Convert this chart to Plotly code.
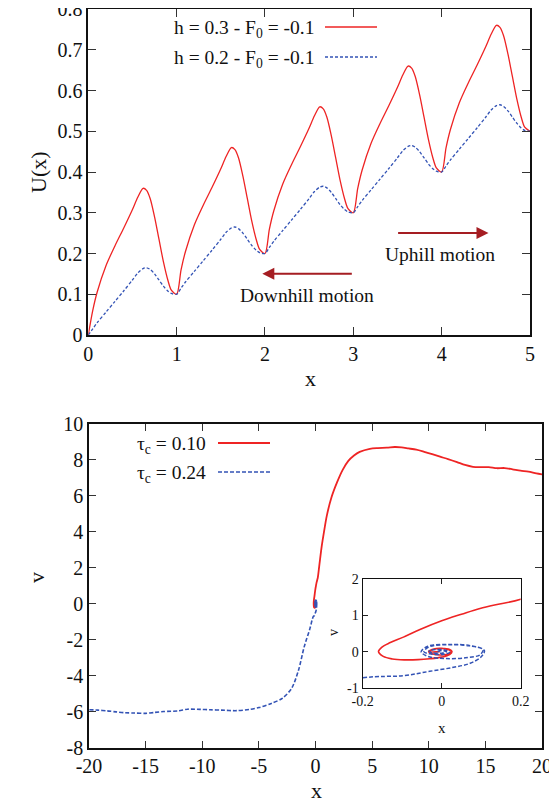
import plotly.graph_objects as go

W, H = 557, 806
FONT = "Liberation Serif, Times New Roman, serif"
RED = "#ee2424"
BLUE = "#3353b5"
ARROW = "#a51d22"

# ---------------- top panel data: U(x) ----------------
x_pot = [0.00, 0.05, 0.10, 0.20, 0.30, 0.40, 0.50, 0.56, 0.62, 0.66, 0.70, 0.75, 0.80, 0.85, 0.90, 0.94,
         1.00, 1.05, 1.10, 1.20, 1.30, 1.40, 1.50, 1.56, 1.62, 1.66, 1.70, 1.75, 1.80, 1.85, 1.90, 1.94,
         2.00, 2.05, 2.10, 2.20, 2.30, 2.40, 2.50, 2.56, 2.62, 2.66, 2.70, 2.75, 2.80, 2.85, 2.90, 2.94,
         3.00, 3.05, 3.10, 3.20, 3.30, 3.40, 3.50, 3.56, 3.62, 3.66, 3.70, 3.75, 3.80, 3.85, 3.90, 3.94,
         4.00, 4.05, 4.10, 4.20, 4.30, 4.40, 4.50, 4.56, 4.62, 4.66, 4.70, 4.75, 4.80, 4.85, 4.90, 4.94,
         5.00]
u_h03 = [0.000, 0.060, 0.105, 0.170, 0.218, 0.262, 0.308, 0.338, 0.360, 0.355, 0.335, 0.290, 0.235, 0.180, 0.135, 0.110,
         0.100, 0.160, 0.205, 0.270, 0.318, 0.362, 0.408, 0.438, 0.460, 0.455, 0.435, 0.390, 0.335, 0.280, 0.235, 0.210,
         0.200, 0.260, 0.305, 0.370, 0.418, 0.462, 0.508, 0.538, 0.560, 0.555, 0.535, 0.490, 0.435, 0.380, 0.335, 0.310,
         0.300, 0.360, 0.405, 0.470, 0.518, 0.562, 0.608, 0.638, 0.660, 0.655, 0.635, 0.590, 0.535, 0.480, 0.435, 0.410,
         0.400, 0.460, 0.505, 0.570, 0.618, 0.662, 0.708, 0.738, 0.760, 0.755, 0.735, 0.690, 0.635, 0.580, 0.535, 0.510,
         0.500]
u_h02 = [0.000, 0.015, 0.030, 0.056, 0.082, 0.108, 0.135, 0.152, 0.163, 0.165, 0.161, 0.150, 0.135, 0.120, 0.108, 0.102,
         0.100, 0.115, 0.130, 0.156, 0.182, 0.208, 0.235, 0.252, 0.263, 0.265, 0.261, 0.250, 0.235, 0.220, 0.208, 0.202,
         0.200, 0.215, 0.230, 0.256, 0.282, 0.308, 0.335, 0.352, 0.363, 0.365, 0.361, 0.350, 0.335, 0.320, 0.308, 0.302,
         0.300, 0.315, 0.330, 0.356, 0.382, 0.408, 0.435, 0.452, 0.463, 0.465, 0.461, 0.450, 0.435, 0.420, 0.408, 0.402,
         0.400, 0.415, 0.430, 0.456, 0.482, 0.508, 0.535, 0.552, 0.563, 0.565, 0.561, 0.550, 0.535, 0.520, 0.508, 0.502,
         0.500]

top_xticks = [0, 1, 2, 3, 4, 5]
top_yticks = [0, 0.1, 0.2, 0.3, 0.4, 0.5, 0.6, 0.7, 0.8]
top_ytext = ["0", "0.1", "0.2", "0.3", "0.4", "0.5", "0.6", "0.7", "0.8"]

# arrows (data coords): tail x, tip x, y
down_arrow = (3.00, 1.97, 0.150)
up_arrow = (3.49, 4.53, 0.250)
down_label = (2.47, 0.098, "Downhill motion")
up_label = (3.98, 0.197, "Uphill motion")

# ---------------- bottom panel data: phase space ----------------
x_tau010 = [-0.005, -0.031, -0.020, 0.000, 0.018, 0.024, 0.015, -0.005, -0.025, -0.033, -0.020, 0.000, 0.020, 0.026,
            0.020, 0.000, -0.030, -0.060, -0.095, -0.125, -0.148, -0.160, -0.152, -0.130, -0.097, -0.055,
            0.000, 0.050, 0.097, 0.150, 0.200,
            0.35, 0.55, 0.75, 1.0, 1.4, 1.9, 2.4, 2.9, 3.4, 3.9, 4.8, 5.5, 6.3, 7.0, 7.6, 8.2, 8.9, 9.6,
            10.3, 11.0, 11.7, 12.5, 13.2, 13.9, 14.6, 15.3, 16.0, 16.7, 17.4, 18.1, 18.8, 19.5, 20.0]
v_tau010 = [0.000, 0.000, 0.070, 0.090, 0.050, 0.000, -0.070, -0.090, -0.060, 0.000, 0.075, 0.095, 0.060, 0.000,
            -0.080, -0.150, -0.195, -0.220, -0.225, -0.200, -0.130, 0.000, 0.120, 0.250, 0.400, 0.610,
            0.850, 1.030, 1.190, 1.320, 1.440,
            2.2, 3.2, 4.0, 4.9, 5.9, 6.75, 7.45, 7.95, 8.25, 8.45, 8.62, 8.66, 8.68, 8.72, 8.70, 8.64, 8.57, 8.45,
            8.32, 8.18, 8.05, 7.88, 7.72, 7.62, 7.60, 7.60, 7.54, 7.55, 7.48, 7.40, 7.35, 7.25, 7.20]

x_tau024 = [-0.010, 0.000, 0.012, 0.000, -0.025, -0.032, -0.015, 0.010, 0.020, 0.005, -0.030, -0.045,
            -0.030, 0.020, 0.070, 0.104, 0.098, 0.060, 0.010, -0.035, -0.052, -0.035, 0.020, 0.075, 0.108,
            0.100, 0.072, 0.030, -0.030, -0.097, -0.200,
            -0.5, -1.0, -1.5, -2.1, -2.9, -3.9, -5.0, -5.8, -7.0, -8.3, -9.3, -10.2, -11.3, -12.1, -13.4,
            -14.2, -15.0, -16.0, -16.8, -17.6, -18.4, -19.2, -20.0]
v_tau024 = [0.000, 0.030, 0.000, -0.040, -0.030, 0.020, 0.060, 0.040, -0.020, -0.070, -0.060, 0.000,
            0.140, 0.190, 0.160, 0.060, -0.080, -0.170, -0.190, -0.130, 0.000, 0.150, 0.200, 0.160, 0.030,
            -0.140, -0.320, -0.430, -0.540, -0.660, -0.720,
            -1.4, -2.4, -3.7, -4.7, -5.25, -5.55, -5.78, -5.88, -5.95, -5.92, -5.90, -5.88, -5.87, -5.96, -6.00,
            -6.05, -6.10, -6.08, -6.07, -6.02, -5.96, -5.92, -5.90]

bot_xticks = [-20, -15, -10, -5, 0, 5, 10, 15, 20]
bot_xtext = ["-20", "-15", "-10", "-5", "0", "5", "10", "15", "20"]
bot_yticks = [-8, -6, -4, -2, 0, 2, 4, 6, 8, 10]
bot_ytext = ["-8", "-6", "-4", "-2", "0", "2", "4", "6", "8", "10"]
ins_xticks = [-0.2, 0, 0.2]
ins_xtext = ["-0.2", "0", "0.2"]
ins_yticks = [-1, 0, 1, 2]
ins_ytext = ["-1", "0", "1", "2"]

legend_top = ["h = 0.3 - F<sub>0</sub> = -0.1", "h = 0.2 - F<sub>0</sub> = -0.1"]
legend_bot = ["τ<sub>c</sub> = 0.10", "τ<sub>c</sub> = 0.24"]


def px(x):
    return x / W


def py(y):
    return 1 - y / H


fig = go.Figure()
fig.add_trace(go.Scatter(x=x_pot, y=u_h03, mode="lines",
                         line=dict(color=RED, width=1.3, shape="spline", smoothing=0.8),
                         xaxis="x", yaxis="y", showlegend=False))
fig.add_trace(go.Scatter(x=x_pot, y=u_h02, mode="lines",
                         line=dict(color=BLUE, width=1.3, dash="3px,2px", shape="spline", smoothing=0.8),
                         xaxis="x", yaxis="y", showlegend=False))
fig.add_trace(go.Scatter(x=x_tau010, y=v_tau010, mode="lines",
                         line=dict(color=RED, width=1.8, shape="spline", smoothing=0.8),
                         xaxis="x2", yaxis="y2", showlegend=False))
fig.add_trace(go.Scatter(x=x_tau024, y=v_tau024, mode="lines",
                         line=dict(color=BLUE, width=1.6, dash="4px,2px", shape="spline", smoothing=0.8),
                         xaxis="x2", yaxis="y2", showlegend=False))
fig.add_trace(go.Scatter(x=x_tau010, y=v_tau010, mode="lines",
                         line=dict(color=RED, width=1.6, shape="spline", smoothing=1.0),
                         xaxis="x3", yaxis="y3", showlegend=False))
fig.add_trace(go.Scatter(x=x_tau024, y=v_tau024, mode="lines",
                         line=dict(color=BLUE, width=1.5, dash="4px,2px", shape="spline", smoothing=1.0),
                         xaxis="x3", yaxis="y3", showlegend=False))

tickfont = dict(family=FONT, size=20, color="#111")
axcommon = dict(showgrid=False, zeroline=False, showline=True, linecolor="#111", linewidth=1.5,
                mirror="allticks", ticks="inside", tickcolor="#333", tickwidth=1.2, tickfont=tickfont,
                automargin=False, ticklabeloverflow="allow")
inscommon = dict(showgrid=False, zeroline=False, showline=True, linecolor="#111", linewidth=1.3,
                 mirror="allticks", ticks="inside", tickcolor="#222", tickwidth=1, ticklen=5,
                 tickfont=dict(family=FONT, size=14, color="#111"), automargin=False,
                 ticklabeloverflow="allow")

fig.update_layout(
    autosize=True, margin=dict(l=0, r=0, t=0, b=0, pad=0, autoexpand=False),
    paper_bgcolor="white", plot_bgcolor="white", showlegend=False,
    xaxis=dict(domain=[px(88.3), px(530)], range=[0, 5], tickvals=top_xticks, ticklen=8,
               anchor="y", **axcommon),
    yaxis=dict(domain=[py(335), py(9)], range=[0, 0.8], tickvals=top_yticks, ticktext=top_ytext,
               ticklen=8, anchor="x", **axcommon),
    xaxis2=dict(domain=[px(89), px(542)], range=[-20, 20], tickvals=bot_xticks, ticktext=bot_xtext,
                ticklen=7, anchor="y2", **axcommon),
    yaxis2=dict(domain=[py(747.5), py(424)], range=[-8, 10], tickvals=bot_yticks, ticktext=bot_ytext,
                ticklen=7, anchor="x2", **axcommon),
    xaxis3=dict(domain=[px(362.7), px(520.7)], range=[-0.2, 0.2], tickvals=ins_xticks, ticktext=ins_xtext,
                anchor="y3", **inscommon),
    yaxis3=dict(domain=[py(688), py(579)], range=[-1, 2], tickvals=ins_yticks, ticktext=ins_ytext,
                anchor="x3", **inscommon),
)


def label(x, y, text, size, angle=0, xanchor="center", yanchor="middle"):
    return dict(x=px(x), y=py(y), xref="paper", yref="paper", text=text, textangle=angle,
                xanchor=xanchor, yanchor=yanchor, showarrow=False,
                font=dict(family=FONT, size=size, color="#111"))


ann = [
    label(38, 172, "U(x)", 22, -90),
    label(310, 379, "x", 22),
    label(36, 578, "v", 22, -90),
    label(316, 805, "x", 22, yanchor="bottom"),
    label(333, 633, "v", 14, -90),
    label(442, 728, "x", 15),
]

# arrows
for tail, tip, yy in [down_arrow, up_arrow]:
    ann.append(dict(x=tip, y=yy, ax=tail, ay=yy, xref="x", yref="y", axref="x", ayref="y",
                    showarrow=True, arrowhead=2, arrowsize=1.2, arrowwidth=2, arrowcolor=ARROW, text=""))
for xx, yy, tt in [down_label, up_label]:
    ann.append(dict(x=xx, y=yy, xref="x", yref="y", text=tt, showarrow=False,
                    xanchor="center", yanchor="middle",
                    font=dict(family=FONT, size=19.5, color="#111")))

# legends (text left of key line, gnuplot style)
for i, t in enumerate(legend_top):
    ann.append(label(316, 29 + 30 * i, t, 19.5, xanchor="right"))
for i, t in enumerate(legend_bot):
    ann.append(label(208, 445 + 29 * i, t, 19.5, xanchor="right"))
fig.update_layout(annotations=ann)

shapes = [
    dict(type="line", xref="paper", yref="paper", x0=px(325), x1=px(377), y0=py(27), y1=py(27),
         line=dict(color=RED, width=1.3)),
    dict(type="line", xref="paper", yref="paper", x0=px(325), x1=px(377), y0=py(57), y1=py(57),
         line=dict(color=BLUE, width=1.3, dash="3px,2px")),
    dict(type="line", xref="paper", yref="paper", x0=px(218), x1=px(270), y0=py(443), y1=py(443),
         line=dict(color=RED, width=1.8)),
    dict(type="line", xref="paper", yref="paper", x0=px(218), x1=px(270), y0=py(472), y1=py(472),
         line=dict(color=BLUE, width=1.6, dash="4px,2px")),
]
fig.update_layout(shapes=shapes)

# the div is sized to the window and pulled over the page's default 8px body margin
fig.write_html("out.html", default_width="557px; margin:-8px 0 0 -8px", default_height="806px")
